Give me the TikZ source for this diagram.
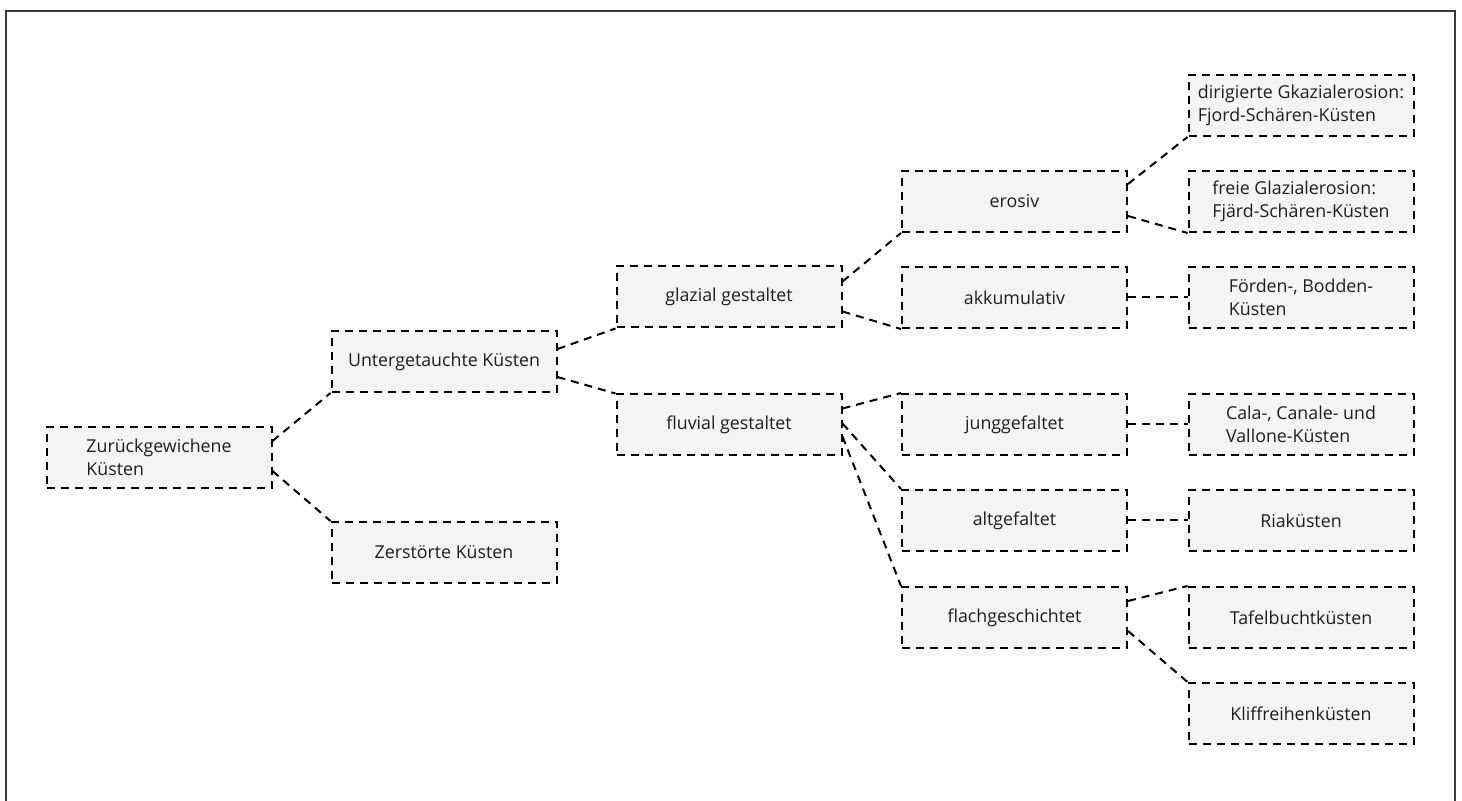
\documentclass[tikz,border=0pt]{standalone}
\usepackage{fontspec}
\setmainfont{Open Sans}
\definecolor{boxgrau}{HTML}{F4F4F4}
\definecolor{rahmen}{HTML}{3A3A3A}
\definecolor{schrift}{HTML}{1E1E1E}
\tikzset{
  kasten/.style={draw, dash pattern=on 4pt off 3pt, line width=1pt, fill=boxgrau,
    minimum width=112.5pt, minimum height=30.5pt, inner sep=0pt, align=left,
    text=schrift, font=\fontsize{8.9}{11.5}\selectfont},
  linie/.style={dash pattern=on 4pt off 3pt, line width=1pt}
}
\begin{document}
\begin{tikzpicture}[x=0.5pt, y=-0.5pt]
        % Spalten und Zeilen (in Pixeln)
        \def\spA{159}
        \def\spB{444}
        \def\spC{729}
        \def\spD{1014.5}
        \def\spE{1301}
        \useasboundingbox (0,0) rectangle (1462,801);
        % Rahmen, unten offen
        \draw[rahmen, line width=1pt] (6,810) -- (6,11) -- (1455,11) -- (1455,810);
        % Ebene 0 und 1
        \node[kasten] (zurueck) at (\spA, 457.5) {Zurückgewichene\\Küsten};
        \node[kasten] (unter) at (\spB, 361.5) {Untergetauchte Küsten};
        \node[kasten] (zerstoert) at (\spB, 552.5) {Zerstörte Küsten};
        % Ebene 2
        \node[kasten] (glazial) at (\spC, 297) {glazial gestaltet};
        \node[kasten] (fluvial) at (\spC, 425) {fluvial gestaltet};
        % Ebene 3
        \node[kasten] (erosiv) at (\spD, 201.5) {erosiv};
        \node[kasten] (akku) at (\spD, 297.5) {akkumulativ};
        \node[kasten] (jung) at (\spD, 424.5) {junggefaltet};
        \node[kasten] (alt) at (\spD, 520.5) {altgefaltet};
        \node[kasten] (flach) at (\spD, 617.5) {flachgeschichtet};
        % Ebene 4
        \node[kasten] (fjord) at (\spE, 105.5) {dirigierte Gkazialerosion:\\Fjord-Schären-Küsten};
        \node[kasten] (fjaerd) at (\spE, 201.5) {freie Glazialerosion:\\Fjärd-Schären-Küsten};
        \node[kasten] (foerden) at (\spE, 297.5) {Förden-, Bodden-\\Küsten};
        \node[kasten] (cala) at (\spE, 424.5) {Cala-, Canale- und\\Vallone-Küsten};
        \node[kasten] (ria) at (\spE, 520.5) {Riaküsten};
        \node[kasten] (tafel) at (\spE, 617.5) {Tafelbuchtküsten};
        \node[kasten] (kliff) at (\spE, 713.5) {Kliffreihenküsten};
        % Verbindungen
        \draw[linie] ([yshift=-7.5pt]zurueck.north east) -- (unter.south west);
        \draw[linie] ([yshift=-22.5pt]zurueck.north east) -- (zerstoert.north west);
        \draw[linie] ([yshift=-9.5pt]unter.north east) -- (glazial.south west);
        \draw[linie] ([yshift=-23.5pt]unter.north east) -- (fluvial.north west);
        \draw[linie] ([yshift=-8pt]glazial.north east) -- (erosiv.south west);
        \draw[linie] ([yshift=-23pt]glazial.north east) -- (akku.south west);
        \draw[linie] ([yshift=-7.5pt]fluvial.north east) -- (jung.north west);
        \draw[linie] ([yshift=-15pt]fluvial.north east) -- (alt.north west);
        \draw[linie] ([yshift=-21.5pt]fluvial.north east) -- (flach.north west);
        \draw[linie] ([yshift=-7pt]erosiv.north east) -- (fjord.south west);
        \draw[linie] ([yshift=-23pt]erosiv.north east) -- (fjaerd.south west);
        \draw[linie] (akku.east) -- (foerden.west);
        \draw[linie] (jung.east) -- (cala.west);
        \draw[linie] (alt.east) -- (ria.west);
        \draw[linie] ([yshift=-7.5pt]flach.north east) -- (tafel.north west);
        \draw[linie] ([yshift=-22.5pt]flach.north east) -- (kliff.north west);
    \end{tikzpicture}
\end{document}
